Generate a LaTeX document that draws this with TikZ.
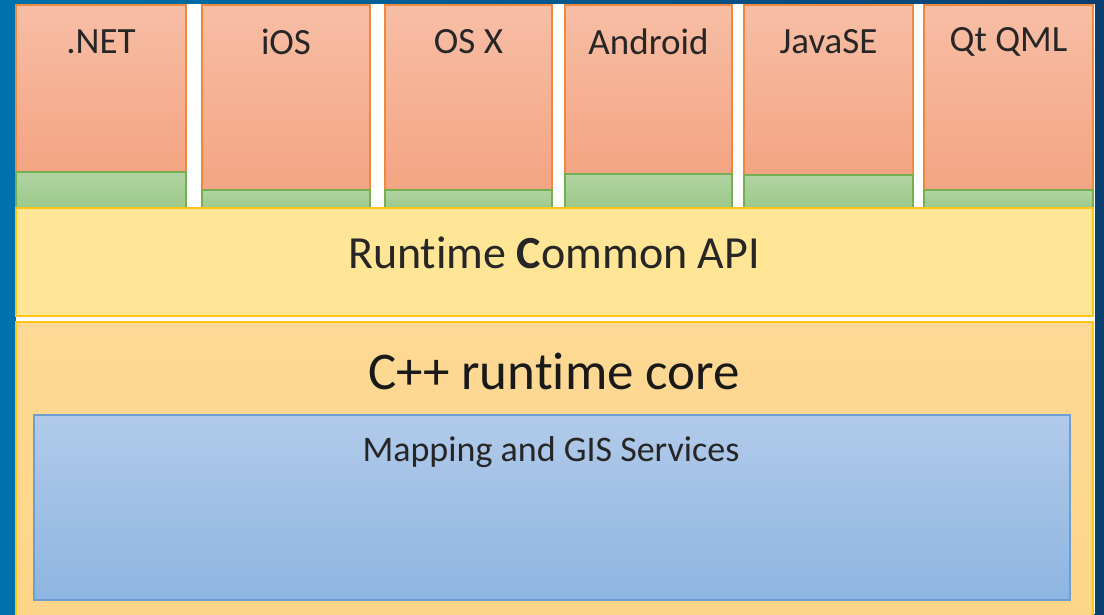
\documentclass[tikz,border=0pt]{standalone}
\usepackage{fontspec}
\setmainfont{Carlito}[Ligatures=NoCommon]
\definecolor{bgL}{HTML}{0071AB}
\definecolor{bgR}{HTML}{0A3F70}
\definecolor{orT}{HTML}{F7BEA5}
\definecolor{orB}{HTML}{F4A482}
\definecolor{orD}{HTML}{F0883E}
\definecolor{grT}{HTML}{B1D4A2}
\definecolor{grB}{HTML}{9CC98A}
\definecolor{grD}{HTML}{74B050}
\definecolor{yeF}{HTML}{FFE596}
\definecolor{yeD}{HTML}{FFC514}
\definecolor{coT}{HTML}{FDD995}
\definecolor{coB}{HTML}{FED588}
\definecolor{blT}{HTML}{B1CAE9}
\definecolor{blB}{HTML}{8EB5E2}
\definecolor{blD}{HTML}{6F9ED3}
\tikzset{
  plat/.style={draw=orD, line width=1.2pt, top color=orT, bottom color=orB},
  shim/.style={draw=grD, line width=1.2pt, top color=grT, bottom color=grB},
  lbl/.style={font=\fontsize{37}{39}\selectfont, text=black!85, anchor=center},
}
\begin{document}
\begin{tikzpicture}[x=1pt,y=-1pt]
\useasboundingbox (0,0) rectangle (1104,614);
\shade[left color=bgL, right color=bgR] (0,0) rectangle (1104,614);
\fill[white] (16,4) rectangle (1095,614);
\foreach \n/\xa/\xb/\g/\t in {net/16/186/172/.NET, ios/202/370/190/iOS, osx/385/552/190/OS X, and/565/732/174/Android, jse/744/913/175/JavaSE, qt/924/1093/190/Qt QML}{
  \draw[plat] (\xa,5) rectangle (\xb,\g);
  \draw[shim] (\xa,\g) rectangle (\xb,208);
  \node[lbl] (\n) at ({(\xa+\xb)/2},42) {\t};
}
\draw[draw=yeD, line width=1.2pt, fill=yeF] (16,208) rectangle (1093,316);
\node[font=\fontsize{46}{48}\selectfont, text=black!85] (api) at (554,253) {Runt\kern0pt ime \textbf{C}ommon API};
\draw[draw=yeD, line width=1.2pt, top color=coT, bottom color=coB] (16,322) rectangle (1093,620);
\node[font=\fontsize{53}{55}\selectfont, text=black!90] (core) at (554,371) {C++ runt\kern0pt ime core};
\draw[draw=blD, line width=1.5pt, top color=blT, bottom color=blB] (34,415) rectangle (1070,600);
\node[font=\fontsize{36}{38}\selectfont, text=black!85] (gis) at (551,452) {Mapping and GIS Services};
\end{tikzpicture}
\end{document}
